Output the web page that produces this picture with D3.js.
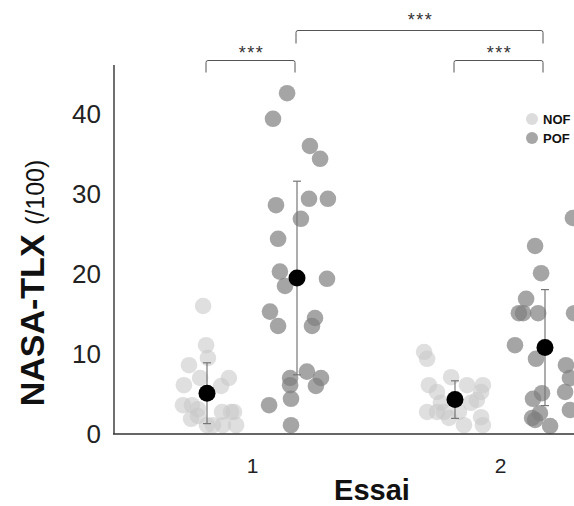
<!DOCTYPE html>
<html>
<head>
<meta charset="utf-8">
<script src="https://cdn.jsdelivr.net/npm/d3@7"></script>
<style>
  html, body { margin: 0; padding: 0; background: #fff; }
  svg { display: block; font-family: "Liberation Sans", Arial, sans-serif; }
</style>
</head>
<body>
<div id="chart"></div>
<script>
// ---- data ----
const categories = ["1", "2"];
const groups = ["NOF", "POF"];
const yTicks = [0, 10, 20, 30, 40];

// individual scores with horizontal jitter (fraction of group half-width)
const nof1Values = [16.0, 11.1, 9.5, 8.6, 7.0, 7.0, 6.1, 6.0, 3.6, 3.6, 3.1, 2.75, 2.75, 2.75, 1.9, 2.25, 1.1, 1.1, 1.1, 1.1];
const nof1Jitter = [-0.13, -0.03, 0.03, -0.6, -0.23, 0.73, -0.77, 0.47, -0.8, -0.5, -0.3, 0.5, 0.8, 0.9, -0.53, -0.3, 0.0, 0.2, 0.53, 0.97];

const pof1Values = [42.6, 39.4, 36.0, 34.4, 28.6, 29.4, 29.4, 26.9, 24.4, 20.3, 19.4, 18.5, 15.3, 13.5, 14.5, 13.5, 7.0, 7.8, 7.0, 6.1, 6.0, 4.4, 3.6, 1.1];
const pof1Jitter = [-0.33, -0.8, 0.43, 0.77, -0.7, 0.4, 1.03, 0.13, -0.63, -0.57, 1.0, -0.4, -0.9, -0.63, 0.6, 0.5, -0.23, 0.33, 0.8, -0.23, 0.63, -0.2, -0.93, -0.2];

const nof2Values = [10.25, 9.4, 7.1, 6.1, 5.25, 6.1, 6.1, 5.25, 3.9, 3.9, 4.25, 2.75, 2.75, 2.75, 2.75, 2.0, 2.1, 1.1, 1.1];
const nof2Jitter = [-1.03, -0.93, -0.13, -0.87, -0.6, 0.4, 0.93, 0.87, 0.53, -0.47, 0.73, -0.93, -0.6, -0.37, 0.13, -0.2, 0.87, 0.3, 0.93];

const pof2Values = [27.0, 23.5, 20.1, 16.9, 15.1, 15.1, 15.1, 15.1, 11.1, 9.4, 8.6, 7.0, 5.1, 4.4, 5.25, 3.0, 2.6, 2.0, 1.75, 1.0];
const pof2Jitter = [0.93, -0.33, -0.13, -0.63, -0.87, -0.73, -0.23, 0.97, -1.0, -0.3, 0.7, 0.83, -0.1, -0.4, 0.67, 0.83, -0.17, -0.43, -0.33, 0.17];

// group means and standard deviations
const nofMeans = [5.1, 4.3];
const nofSD = [3.8, 2.35];
const pofMeans = [19.5, 10.8];
const pofSD = [12.1, 7.25];

// significance brackets
const brackets = [
  { from: ["1", "NOF"], to: ["1", "POF"], label: "***", level: 0 },
  { from: ["2", "NOF"], to: ["2", "POF"], label: "***", level: 0 },
  { from: ["1", "POF"], to: ["2", "POF"], label: "***", level: 1 }
];

// ---- layout ----
const W = 574, H = 506;
const svg = d3.select("#chart").append("svg").attr("width", W).attr("height", H);

const axisX = 114, axisY = 434, axisTop = 65;
const x = d3.scalePoint().domain(categories).range([252, 500]);
const xg = d3.scalePoint().domain(groups).range([-45, 45]);
const y = d3.scaleLinear().domain([0, (axisY - axisTop) / 8]).range([axisY, axisTop]);
const jitterHalf = 30;

const colors = { NOF: "#c8c8c8", POF: "#7f7f7f" };
const opac = { NOF: 0.58, POF: 0.7 };
const legendColors = { NOF: "#dcdcdc", POF: "#a6a6a6" };

const pts = [];
[[nof1Values, nof1Jitter, "1", "NOF"], [pof1Values, pof1Jitter, "1", "POF"],
 [nof2Values, nof2Jitter, "2", "NOF"], [pof2Values, pof2Jitter, "2", "POF"]].forEach(([vals, jit, c, g]) => {
  vals.forEach((v, i) => pts.push({ v, j: jit[i], c, g }));
});

// points
svg.append("g").selectAll("circle").data(pts).join("circle")
  .attr("cx", d => x(d.c) + xg(d.g) + d.j * jitterHalf)
  .attr("cy", d => y(d.v))
  .attr("r", 8.3)
  .attr("fill", d => colors[d.g])
  .attr("fill-opacity", d => opac[d.g]);

// axes
const yAxis = d3.axisLeft(y).tickValues(yTicks).tickSize(0).tickPadding(13);
const gy = svg.append("g").attr("transform", `translate(${axisX},0)`).call(yAxis);
gy.select(".domain").remove();
gy.selectAll("text").attr("font-size", 26).attr("fill", "#222").attr("font-family", "Liberation Sans, Arial, sans-serif");

const xAxis = d3.axisBottom(x).tickSize(0).tickPadding(24);
const gx = svg.append("g").attr("transform", `translate(0,${axisY})`).call(xAxis);
gx.select(".domain").remove();
gx.selectAll("text").attr("font-size", 21).attr("fill", "#222").attr("font-family", "Liberation Sans, Arial, sans-serif");

svg.append("line").attr("x1", axisX).attr("x2", axisX).attr("y1", axisTop).attr("y2", axisY)
  .attr("stroke", "#222").attr("stroke-width", 1.3);
svg.append("line").attr("x1", axisX - 1).attr("x2", W + 20).attr("y1", axisY).attr("y2", axisY)
  .attr("stroke", "#333").attr("stroke-width", 1.5);

// error bars and means
const summary = [];
categories.forEach((c, i) => {
  summary.push({ c, g: "NOF", m: nofMeans[i], sd: nofSD[i] });
  summary.push({ c, g: "POF", m: pofMeans[i], sd: pofSD[i] });
});
const eb = svg.append("g").attr("stroke", "#777").attr("stroke-width", 1.2);
summary.forEach(d => {
  const cx = x(d.c) + xg(d.g);
  eb.append("line").attr("x1", cx).attr("x2", cx).attr("y1", y(d.m + d.sd)).attr("y2", y(d.m - d.sd));
  [d.m + d.sd, d.m - d.sd].forEach(v => {
    eb.append("line").attr("x1", cx - 4).attr("x2", cx + 4).attr("y1", y(v)).attr("y2", y(v));
  });
});
svg.append("g").selectAll("circle").data(summary).join("circle")
  .attr("cx", d => x(d.c) + xg(d.g)).attr("cy", d => y(d.m)).attr("r", 8.5).attr("fill", "#000");

// significance brackets
const bg = svg.append("g");
brackets.forEach(b => {
  const x1 = x(b.from[0]) + xg(b.from[1]) - 1;
  const x2 = x(b.to[0]) + xg(b.to[1]) - 2;
  const top = b.level === 0 ? 60.5 : 30.5;
  const drop = b.level === 0 ? 12 : 13;
  bg.append("path")
    .attr("d", `M${x1},${top + drop} L${x1},${top + 2} Q${x1},${top} ${x1 + 2},${top} L${x2 - 2},${top} Q${x2},${top} ${x2},${top + 2} L${x2},${top + drop}`)
    .attr("fill", "none").attr("stroke", "#555").attr("stroke-width", 1);
  bg.append("text").attr("x", (x1 + x2) / 2 + 1).attr("y", top - (b.level === 0 ? 2 : 4.5))
    .attr("text-anchor", "middle").attr("font-size", 18).attr("fill", "#333")
    .attr("letter-spacing", 1.5).text(b.label);
});

// legend
const lg = svg.append("g");
groups.forEach((g, i) => {
  const ly = 119 + i * 19;
  lg.append("circle").attr("cx", 532).attr("cy", ly).attr("r", 6).attr("fill", legendColors[g]);
  lg.append("text").attr("x", 543).attr("y", ly + 4.5).attr("font-size", 13).attr("font-weight", "bold")
    .attr("fill", "#111").text(g);
});

// axis titles
const yt = svg.append("text").attr("transform", "translate(44,283) rotate(-90)")
  .attr("text-anchor", "middle").attr("fill", "#111");
yt.append("tspan").attr("font-size", 34).attr("font-weight", "bold").text("NASA-TLX ");
yt.append("tspan").attr("font-size", 25).text("(/100)");

svg.append("text").attr("x", 372).attr("y", 500).attr("text-anchor", "middle")
  .attr("font-size", 29).attr("font-weight", "bold").attr("fill", "#111").text("Essai");
</script>
</body>
</html>
